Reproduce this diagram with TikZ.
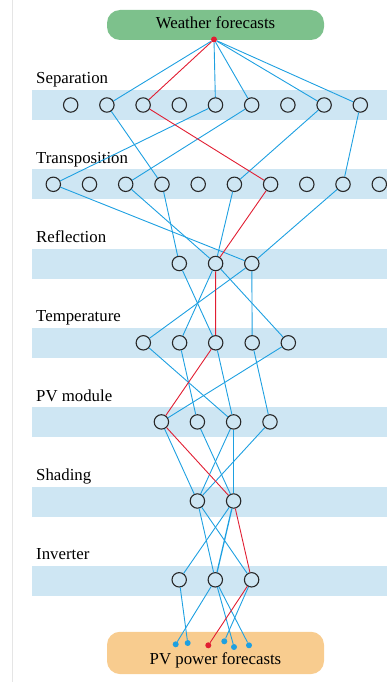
\documentclass[tikz,border=0pt]{standalone}
\usepackage{fontspec}
\setmainfont{Liberation Serif}
\definecolor{band}{RGB}{206,230,243}
\definecolor{eblue}{RGB}{30,160,225}
\definecolor{ered}{RGB}{225,30,50}
\definecolor{wgreen}{RGB}{125,193,140}
\definecolor{porange}{RGB}{248,204,143}
\definecolor{ring}{RGB}{40,40,40}
\begin{document}
\begin{tikzpicture}[x=1pt,y=-1pt,
  unit/.style={circle,draw=ring,line width=1.1pt,fill=band,minimum size=14.4pt,inner sep=0pt},
  lyr/.style={anchor=base west,inner sep=0pt,font=\fontsize{16.8}{18}\selectfont},
  ttl/.style={anchor=base,inner sep=0pt,font=\fontsize{16.8}{18}\selectfont},
  eb/.style={eblue,line width=0.9pt},
  er/.style={ered,line width=0.9pt},
  bdot/.style={circle,fill=eblue,inner sep=0pt,minimum size=6pt},
  rdot/.style={circle,fill=ered,inner sep=0pt,minimum size=6pt},
  endbox/.style={rounded corners=13pt,inner sep=0pt,minimum width=217pt}]
\useasboundingbox (0,0) rectangle (387,682);
% left rule
\draw[black!10,line width=1pt] (12.5,0) -- (12.5,682);
% bands and labels
\foreach \t/\lab in {90/Separation,169.3/Transposition,248.6/Reflection,327.9/Temperature,407.2/PV module,486.5/Shading,565.8/Inverter}{
  \fill[band] (32,\t) rectangle (387,\t+30);
  \node[lyr] at (36,\t-6) {\lab};
}
% end boxes
\node[endbox,fill=wgreen,minimum height=30pt] (wf) at (215.5,25) {};
\node[ttl] (wft) at (215.5,28.3) {Weather forecasts};
\node[endbox,fill=porange,minimum height=42.3pt] (pv) at (215.5,652.9) {};
\node[ttl] (pvt) at (215.5,664) {PV power forecasts};
% units
\foreach \x [count=\i] in {70.7,106.9,143.1,179.3,215.5,251.7,287.9,324.1,360.3}
  \node[unit] (s\i) at (\x,105) {};
\foreach \x [count=\i] in {53.3,89.5,125.7,162,198.2,234.4,270.6,306.8,343,379.3}
  \node[unit] (t\i) at (\x,184.3) {};
\foreach \x [count=\i] in {179.3,215.6,251.8}
  \node[unit] (r\i) at (\x,263.5) {};
\foreach \x [count=\i] in {143.3,179.6,215.7,252.2,288.3}
  \node[unit] (m\i) at (\x,342.8) {};
\foreach \x [count=\i] in {161.4,197.4,233.6,270}
  \node[unit] (p\i) at (\x,421.9) {};
\foreach \x [count=\i] in {197.4,233.6}
  \node[unit] (h\i) at (\x,501) {};
\foreach \x [count=\i] in {179.2,215.3,251.6}
  \node[unit] (i\i) at (\x,579.8) {};
% dots
\node[rdot] (wd) at (214,39.5) {};
\node[bdot] (d1) at (175.7,644.3) {};
\node[bdot] (d2) at (187.7,643) {};
\node[rdot] (d3) at (208.3,645.3) {};
\node[bdot] (d4) at (224.3,641.3) {};
\node[bdot] (d5) at (234,647) {};
\node[bdot] (d6) at (249,645.3) {};
% blue connectors
\draw[eb] (wd) -- (s2);
\draw[eb] (wd) -- (s5);
\draw[eb] (wd) -- (s6);
\draw[eb] (wd) -- (s8);
\draw[eb] (wd) -- (s9);
\draw[eb] (s2) -- (t4);
\draw[eb] (s5) -- (t1);
\draw[eb] (s6) -- (t3);
\draw[eb] (s8) -- (t6);
\draw[eb] (s9) -- (t9);
\draw[eb] (t1) -- (r3);
\draw[eb] (t3) -- (r2);
\draw[eb] (t4) -- (r1);
\draw[eb] (t6) -- (r2);
\draw[eb] (t9) -- (r3);
\draw[eb] (r1) -- (m3);
\draw[eb] (r2) -- (m2);
\draw[eb] (r2) -- (m5);
\draw[eb] (r3) -- (m1);
\draw[eb] (r3) -- (m4);
\draw[eb] (m1) -- (p3);
\draw[eb] (m2) -- (p2);
\draw[eb] (m3) -- (p3);
\draw[eb] (m4) -- (p4);
\draw[eb] (m5) -- (p1);
\draw[eb] (p1) -- (h1);
\draw[eb] (p2) -- (h2);
\draw[eb] (p3) -- (h1);
\draw[eb] (p3) -- (h2);
\draw[eb] (p4) -- (h1);
\draw[eb] (h1) -- (i2);
\draw[eb] (h1) -- (i3);
\draw[eb] (h2) -- (i1);
\draw[eb,line width=1.3pt] (h2) -- (i2);
\draw[eb] (i1) -- (d2);
\draw[eb] (i2) -- (d1);
\draw[eb] (i2) -- (d5);
\draw[eb] (i2) -- (d6);
\draw[eb] (i3) -- (d4);
% red path
\draw[er] (wd) -- (s3);
\draw[er] (s3) -- (t7);
\draw[er] (t7) -- (r2);
\draw[er] (r2) -- (m3);
\draw[er] (m3) -- (p1);
\draw[er] (p1) -- (h2);
\draw[er] (h2) -- (i3);
\draw[er] (i3) -- (d3);
\end{tikzpicture}
\end{document}
